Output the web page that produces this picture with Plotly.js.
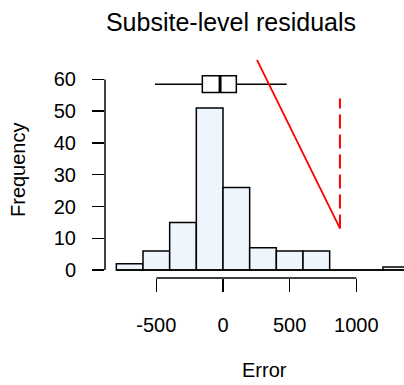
<!DOCTYPE html>
<html>
<head>
<meta charset="utf-8">
<script src="https://cdn.plot.ly/plotly-3.0.1.min.js"></script>
<style>html,body{margin:0;padding:0;background:#fff;}#chart{width:404px;height:385px;}</style>
</head>
<body>
<div id="chart"></div>
<script>
// Histogram bins (start of each 200-wide bin) and counts
var binStarts = [-800, -600, -400, -200, 0, 200, 400, 600, 800, 1000, 1200];
var binWidth = 200;
var counts = [2, 6, 15, 51, 26, 7, 6, 6, 0, 0, 1];

// Boxplot summary of errors
var boxLowerWhisker = -510;
var boxQ1 = -155;
var boxMedian = -22;
var boxQ3 = 100;
var boxUpperWhisker = 478;

// Red reference lines
var redLineX = [253, 877];
var redLineY = [66.3, 13.1];
var dashLineX = [877, 877];
var dashLineY = [13.1, 54];

var xTicks = [-500, 0, 500, 1000];
var yTicks = [0, 10, 20, 30, 40, 50, 60];

var binCenters = binStarts.map(function (s) { return s + binWidth / 2; });
var boxY = 58.5, boxW = 5.3;
var font = 'Liberation Sans, Arial, sans-serif';

var traces = [
  {
    type: 'bar', x: binCenters, y: counts, width: binWidth,
    marker: {color: '#EEF5FD', line: {color: '#000', width: 1.5}},
    hoverinfo: 'x+y', showlegend: false
  },
  {
    type: 'box', orientation: 'h', y: [boxY],
    lowerfence: [boxLowerWhisker], q1: [boxQ1], median: [boxMedian],
    q3: [boxQ3], upperfence: [boxUpperWhisker],
    width: boxW, fillcolor: 'rgba(255,255,255,1)',
    line: {color: '#000', width: 1.5}, whiskerwidth: 0, showlegend: false
  },
  {
    type: 'scatter', mode: 'lines', x: [boxMedian, boxMedian],
    y: [boxY - boxW / 2, boxY + boxW / 2],
    line: {color: '#000', width: 3}, showlegend: false, hoverinfo: 'skip'
  },
  {
    type: 'scatter', mode: 'lines', x: redLineX, y: redLineY,
    line: {color: '#FF0000', width: 1.8}, showlegend: false
  },
  {
    type: 'scatter', mode: 'lines', x: dashLineX, y: dashLineY,
    line: {color: '#FF0000', width: 2, dash: '14px,6px'}, showlegend: false
  }
];

var layout = {
  width: 404, height: 385,
  margin: {l: 105, r: 0, t: 60, b: 107},
  paper_bgcolor: '#fff', plot_bgcolor: '#fff',
  font: {family: font, size: 20, color: '#000'},
  bargap: 0,
  title: {
    text: 'Subsite-level residuals', font: {family: font, size: 25, color: '#000'},
    xref: 'container', yref: 'container', x: 231 / 404, xanchor: 'center',
    y: 1 - 22 / 385, yanchor: 'middle'
  },
  xaxis: {
    range: [-885, 1357.5], tickvals: xTicks, ticktext: xTicks.map(String),
    ticks: 'outside', ticklen: 13, tickwidth: 1.5, tickcolor: '#000',
    showline: false, showgrid: false, zeroline: false,
    ticklabelstandoff: 16, tickfont: {family: font, size: 20}
  },
  yaxis: {
    range: [-2.5, 66.1], tickvals: yTicks, ticktext: yTicks.map(String),
    ticks: 'outside', ticklen: 12, tickwidth: 1.5, tickcolor: '#000',
    showline: false, showgrid: false, zeroline: false,
    ticklabelstandoff: 12, tickfont: {family: font, size: 20}
  },
  shapes: [
    {type: 'line', xref: 'x', yref: 'paper', x0: xTicks[0], x1: xTicks[xTicks.length - 1], y0: 0, y1: 0,
     line: {color: '#000', width: 1.5}},
    {type: 'line', xref: 'paper', yref: 'y', x0: 0, x1: 0, y0: yTicks[0], y1: yTicks[yTicks.length - 1],
     line: {color: '#000', width: 1.5}},
    {type: 'line', xref: 'x', yref: 'y', x0: binStarts[0], x1: binStarts[binStarts.length - 1] + binWidth,
     y0: 0, y1: 0, line: {color: '#000', width: 1.5}, layer: 'above'}
  ],
  annotations: [
    {text: 'Frequency', xref: 'paper', yref: 'paper', x: (18 - 105) / 299, y: (278 - 170) / 218,
     textangle: -90, showarrow: false, xanchor: 'center', yanchor: 'middle', font: {family: font, size: 20}},
    {text: 'Error', xref: 'paper', yref: 'paper', x: (264 - 105) / 299, y: (278 - 370) / 218,
     showarrow: false, xanchor: 'center', yanchor: 'middle', font: {family: font, size: 20}}
  ]
};

Plotly.newPlot('chart', traces, layout, {displayModeBar: false, staticPlot: true});
</script>
</body>
</html>
